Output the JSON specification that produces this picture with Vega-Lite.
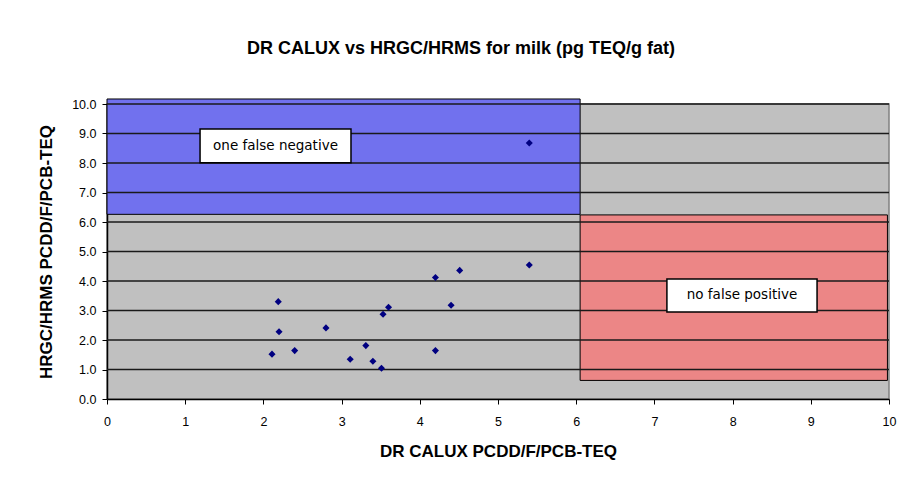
{
  "$schema": "https://vega.github.io/schema/vega-lite/v6.json",
  "width": 782,
  "height": 295,
  "autosize": "none",
  "padding": {"left": 107, "top": 104, "right": 20, "bottom": 80},
  "background": "white",
  "config": {
    "view": {"fill": "#C0C0C0", "stroke": "#808080", "strokeWidth": 1.5},
    "font": "Liberation Sans",
    "axis": {
      "grid": false,
      "domainColor": "#000000",
      "domainWidth": 1.5,
      "tickColor": "#000000",
      "tickSize": 5,
      "labelFontSize": 12.5,
      "labelColor": "#000000",
      "labelFlush": false,
      "titleFontSize": 17,
      "titleFontWeight": "bold",
      "titleColor": "#000000"
    },
    "axisX": {"labelPadding": 11, "titlePadding": 16},
    "axisY": {"labelPadding": 6, "titlePadding": 16}
  },
  "title": {
    "text": "DR CALUX vs HRGC/HRMS for milk (pg TEQ/g fat)",
    "font": "Liberation Sans",
    "fontSize": 18,
    "fontWeight": "bold",
    "color": "#000000",
    "anchor": "middle",
    "frame": "group",
    "dx": -37,
    "offset": 40
  },
  "datasets": {
    "regions": [
      {"label": "false negative zone", "x1": 0, "x2": 6.05, "y1": 6.26, "y2": 10.17},
      {"label": "false positive zone", "x1": 6.05, "x2": 9.98, "y1": 0.63, "y2": 6.24}
    ],
    "grid": [{"y": 1}, {"y": 2}, {"y": 3}, {"y": 4}, {"y": 5}, {"y": 6}, {"y": 7}, {"y": 8}, {"y": 9}, {"y": 10}],
    "points": [
      {"calux": 2.19, "hrgc": 3.30},
      {"calux": 2.20, "hrgc": 2.28},
      {"calux": 2.11, "hrgc": 1.52},
      {"calux": 2.40, "hrgc": 1.64},
      {"calux": 2.80, "hrgc": 2.41},
      {"calux": 3.11, "hrgc": 1.35},
      {"calux": 3.31, "hrgc": 1.81},
      {"calux": 3.40, "hrgc": 1.28},
      {"calux": 3.51, "hrgc": 1.04},
      {"calux": 3.53, "hrgc": 2.87},
      {"calux": 3.60, "hrgc": 3.11},
      {"calux": 4.20, "hrgc": 4.12},
      {"calux": 4.40, "hrgc": 3.18},
      {"calux": 4.51, "hrgc": 4.36},
      {"calux": 4.20, "hrgc": 1.64},
      {"calux": 5.40, "hrgc": 4.54},
      {"calux": 5.40, "hrgc": 8.68}
    ],
    "labels": [
      {"text": "one false negative", "x1": 1.19, "x2": 3.12, "y1": 8.01, "y2": 9.15},
      {"text": "no false positive", "x1": 7.16, "x2": 9.08, "y1": 2.95, "y2": 4.07}
    ]
  },
  "layer": [
    {
      "data": {"name": "regions"},
      "mark": {"type": "rect", "clip": false, "stroke": "#000000", "strokeWidth": 1},
      "encoding": {
        "x": {
          "field": "x1", "type": "quantitative",
          "scale": {"domain": [0, 10], "nice": false, "zero": true},
          "axis": {"values": [0, 1, 2, 3, 4, 5, 6, 7, 8, 9, 10], "format": "d", "labelOverlap": false, "title": "DR CALUX PCDD/F/PCB-TEQ"}
        },
        "x2": {"field": "x2"},
        "y": {
          "field": "y1", "type": "quantitative",
          "scale": {"domain": [0, 10], "nice": false},
          "axis": {"values": [0, 1, 2, 3, 4, 5, 6, 7, 8, 9, 10], "format": ".1f", "labelOverlap": false, "title": "HRGC/HRMS PCDD/F/PCB-TEQ"}
        },
        "y2": {"field": "y2"},
        "fill": {
          "field": "label", "type": "nominal",
          "scale": {"domain": ["false negative zone", "false positive zone"], "range": ["#7171ee", "#ec8686"]},
          "legend": null
        }
      }
    },
    {
      "data": {"name": "grid"},
      "mark": {"type": "rule", "color": "#1a1a1a", "strokeWidth": 1.6},
      "encoding": {
        "y": {
          "field": "y", "type": "quantitative",
          "axis": {"values": [0, 1, 2, 3, 4, 5, 6, 7, 8, 9, 10], "format": ".1f", "labelOverlap": false, "title": "HRGC/HRMS PCDD/F/PCB-TEQ"}
        }
      }
    },
    {
      "data": {"name": "points"},
      "mark": {"type": "point", "shape": "diamond", "filled": true, "color": "#000080", "size": 50, "opacity": 1},
      "encoding": {
        "x": {
          "field": "calux", "type": "quantitative",
          "axis": {"values": [0, 1, 2, 3, 4, 5, 6, 7, 8, 9, 10], "format": "d", "labelOverlap": false, "title": "DR CALUX PCDD/F/PCB-TEQ"}
        },
        "y": {
          "field": "hrgc", "type": "quantitative",
          "axis": {"values": [0, 1, 2, 3, 4, 5, 6, 7, 8, 9, 10], "format": ".1f", "labelOverlap": false, "title": "HRGC/HRMS PCDD/F/PCB-TEQ"}
        }
      }
    },
    {
      "data": {"name": "labels"},
      "mark": {"type": "rect", "fill": "#ffffff", "stroke": "#000000", "strokeWidth": 1.5},
      "encoding": {
        "x": {
          "field": "x1", "type": "quantitative",
          "axis": {"values": [0, 1, 2, 3, 4, 5, 6, 7, 8, 9, 10], "format": "d", "labelOverlap": false, "title": "DR CALUX PCDD/F/PCB-TEQ"}
        },
        "x2": {"field": "x2"},
        "y": {
          "field": "y1", "type": "quantitative",
          "axis": {"values": [0, 1, 2, 3, 4, 5, 6, 7, 8, 9, 10], "format": ".1f", "labelOverlap": false, "title": "HRGC/HRMS PCDD/F/PCB-TEQ"}
        },
        "y2": {"field": "y2"}
      }
    },
    {
      "data": {"name": "labels"},
      "transform": [
        {"calculate": "(datum.x1 + datum.x2) / 2", "as": "xc"},
        {"calculate": "(datum.y1 + datum.y2) / 2", "as": "yc"}
      ],
      "mark": {"type": "text", "font": "DejaVu Sans", "fontSize": 13.5, "color": "#000000", "align": "center", "baseline": "middle"},
      "encoding": {
        "x": {
          "field": "xc", "type": "quantitative",
          "axis": {"values": [0, 1, 2, 3, 4, 5, 6, 7, 8, 9, 10], "format": "d", "labelOverlap": false, "title": "DR CALUX PCDD/F/PCB-TEQ"}
        },
        "y": {
          "field": "yc", "type": "quantitative",
          "axis": {"values": [0, 1, 2, 3, 4, 5, 6, 7, 8, 9, 10], "format": ".1f", "labelOverlap": false, "title": "HRGC/HRMS PCDD/F/PCB-TEQ"}
        },
        "text": {"field": "text"}
      }
    }
  ]
}
